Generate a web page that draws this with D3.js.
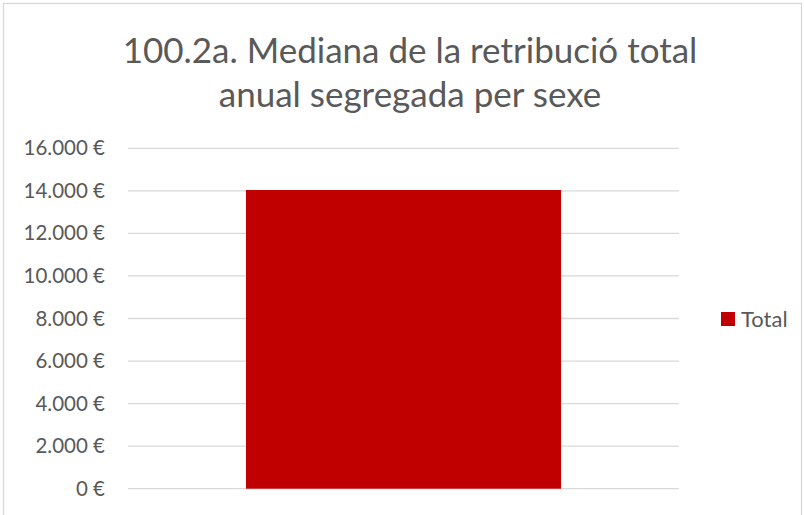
<!DOCTYPE html>
<html>
<head>
<meta charset="utf-8">
<script src="https://cdn.jsdelivr.net/npm/d3@7"></script>
<style>
  body { margin: 0; background: #fff; }
  svg { display: block; font-family: Lato, "Open Sans", sans-serif; }
</style>
</head>
<body>
<svg id="chart" width="804" height="515"></svg>
<script>
// chart data
const categories = [''];
const seriesName = 'Total';
const values = [14040];
const yTicks = [0, 2000, 4000, 6000, 8000, 10000, 12000, 14000, 16000];
const titleLines = ['100.2a. Mediana de la retribució total', 'anual segregada per sexe'];

const svg = d3.select('#chart');
const textColor = '#595959';

// outer border of the chart area
svg.append('rect')
    .attr('x', 3.5).attr('y', 3.5)
    .attr('width', 798).attr('height', 530)
    .attr('fill', '#fff')
    .attr('stroke', '#d9d9d9')
    .attr('stroke-width', 1.3);

// title
const title = svg.append('text')
    .attr('text-anchor', 'middle')
    .attr('fill', textColor)
    .style('font-size', '35px')
    .style('font-weight', 400);
titleLines.forEach((t, i) => {
    title.append('tspan')
        .attr('x', 410)
        .attr('y', 63 + i * 44)
        .text(t);
});

const plot = { left: 128, right: 679, top: 148.3, bottom: 488.7 };

const x = d3.scaleBand()
    .domain(categories)
    .range([plot.left, plot.right])
    .paddingInner(0.2725)
    .paddingOuter(0.2725);

const y = d3.scaleLinear()
    .domain([0, 16000])
    .range([plot.bottom, plot.top]);

const locale = d3.formatLocale({ decimal: ',', thousands: '.', grouping: [3], currency: ['', ' €'] });
const fmt = v => locale.format(',')(v) + ' €';

// gridlines
svg.append('g')
    .selectAll('line')
    .data(yTicks)
    .enter().append('line')
    .attr('x1', plot.left)
    .attr('x2', plot.right)
    .attr('y1', d => y(d))
    .attr('y2', d => y(d))
    .attr('stroke', '#d9d9d9')
    .attr('stroke-width', 1.3);

// y axis labels
const yAxis = d3.axisLeft(y)
    .tickValues(yTicks)
    .tickFormat(fmt)
    .tickSize(0)
    .tickPadding(0);

const yg = svg.append('g')
    .attr('transform', `translate(${105},0)`)
    .call(yAxis);
yg.select('.domain').remove();
yg.selectAll('text')
    .attr('fill', textColor)
    .style('font-size', '20.5px')
    .style('font-family', 'Lato, "Open Sans", sans-serif');

// bars
svg.append('g')
    .selectAll('rect')
    .data(values)
    .enter().append('rect')
    .attr('x', (d, i) => x(categories[i]))
    .attr('width', x.bandwidth())
    .attr('y', d => y(d))
    .attr('height', d => y(0) - y(d))
    .attr('fill', '#c00000');

// legend
const legend = svg.append('g').attr('transform', 'translate(721,312)');
legend.append('rect')
    .attr('width', 14).attr('height', 14)
    .attr('fill', '#c00000');
legend.append('text')
    .attr('x', 20)
    .attr('y', 7)
    .attr('dy', '0.35em')
    .attr('fill', textColor)
    .style('font-size', '22px')
    .text(seriesName);
</script>
</body>
</html>
